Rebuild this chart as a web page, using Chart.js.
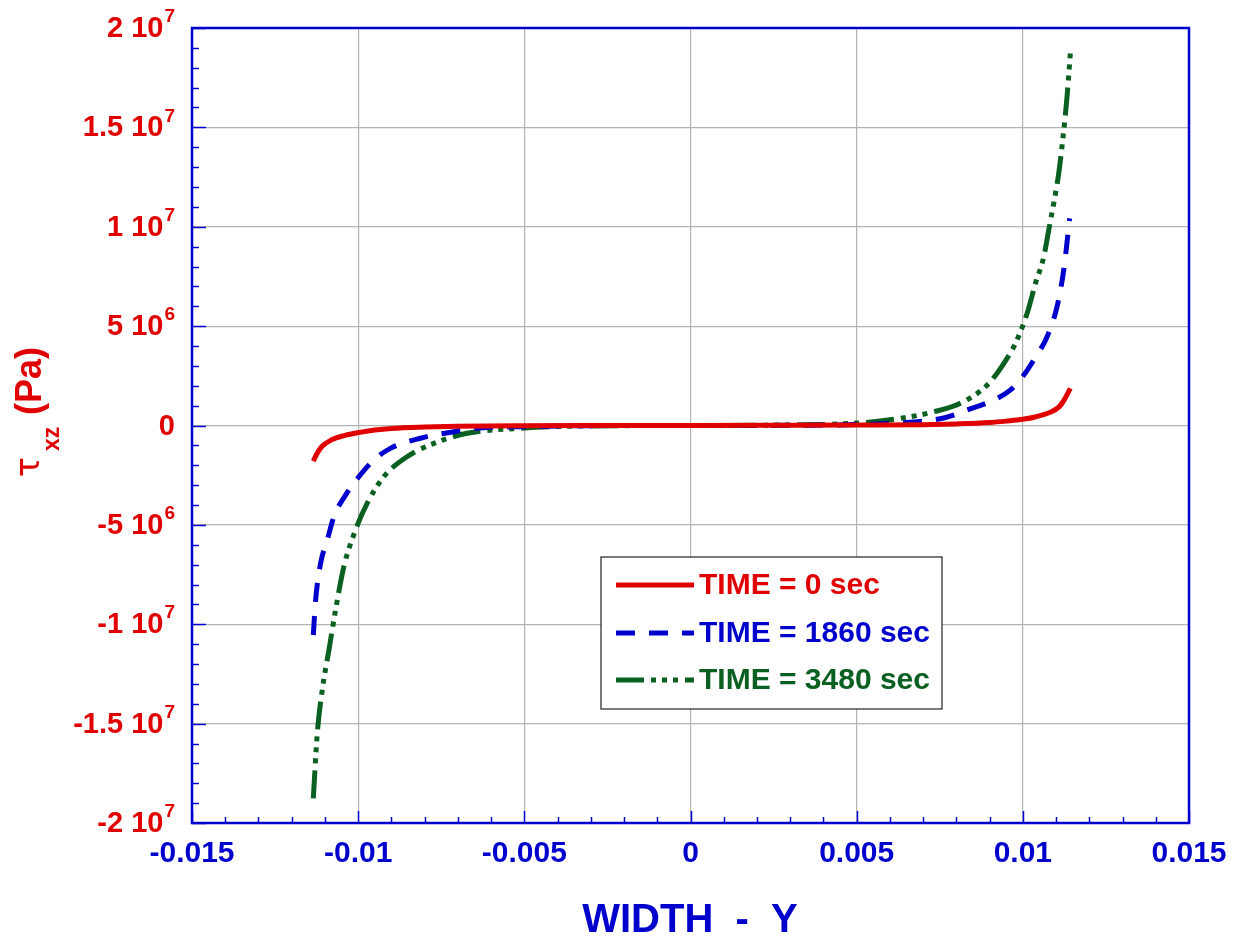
<!DOCTYPE html>
<html>
<head>
<meta charset="utf-8">
<script src="https://cdn.jsdelivr.net/npm/chart.js@4"></script>
<style>
  html, body { margin: 0; padding: 0; background: #fff; }
  #wrap { width: 1238px; height: 937px; }
</style>
</head>
<body>
<div id="wrap"><canvas id="chartCanvas"></canvas></div>
<script>
// widths in m, stresses in Pa
const redX = [-0.01135, -0.01125, -0.0111, -0.0108, -0.0104, -0.0100, -0.0095, -0.0090, -0.0080, -0.0070, -0.0050, -0.0030, 0, 0.0030, 0.0050, 0.0070, 0.0080, 0.0090, 0.0095, 0.0100, 0.0104, 0.0108, 0.0111, 0.01125, 0.01143];
const redY = [-1.79e6, -1.45e6, -1.07e6, -0.72e6, -0.50e6, -0.36e6, -0.23e6, -0.15e6, -0.08e6, -0.04e6, -0.01e6, 0, 0, 0.01e6, 0.02e6, 0.04e6, 0.08e6, 0.15e6, 0.22e6, 0.31e6, 0.44e6, 0.65e6, 0.95e6, 1.3e6, 1.87e6];

const blueX = [-0.01135, -0.01128, -0.01113, -0.01093, -0.01073, -0.01038, -0.00998, -0.00953, -0.00903, -0.00813, -0.00712, -0.00632, -0.005, -0.003, 0, 0.003, 0.005, 0.00682, 0.00762, 0.00833, 0.00912, 0.00963, 0.01003, 0.01033, 0.01073, 0.01103, 0.01123, 0.01141];
const blueY = [-10.54e6, -8.78e6, -6.93e6, -5.76e6, -4.59e6, -3.5e6, -2.58e6, -1.74e6, -1.15e6, -0.64e6, -0.31e6, -0.12e6, -0.06e6, -0.01e6, 0, 0.01e6, 0.05e6, 0.19e6, 0.38e6, 0.78e6, 1.28e6, 1.79e6, 2.54e6, 3.3e6, 4.47e6, 5.98e6, 7.82e6, 10.42e6];

const greenX = [-0.01135, -0.01123, -0.01108, -0.01088, -0.01068, -0.01043, -0.01008, -0.00973, -0.00923, -0.00853, -0.00772, -0.00672, -0.005, -0.003, 0, 0.003, 0.005, 0.00632, 0.00732, 0.00812, 0.00893, 0.00943, 0.00978, 0.01013, 0.01038, 0.01063, 0.01078, 0.01093, 0.01108, 0.0112, 0.01133, 0.01143];
const greenY = [-18.76e6, -15.49e6, -13.3e6, -11.3e6, -9.28e6, -7.1e6, -5.26e6, -3.92e6, -2.58e6, -1.57e6, -0.9e6, -0.39e6, -0.13e6, -0.02e6, 0, 0.03e6, 0.12e6, 0.36e6, 0.69e6, 1.12e6, 2.04e6, 3.13e6, 4.14e6, 5.65e6, 7.15e6, 8.49e6, 9.84e6, 11.18e6, 12.69e6, 14.36e6, 16.54e6, 18.73e6];

const seriesLabels = ["TIME = 0 sec", "TIME = 1860 sec", "TIME = 3480 sec"];
const xMajors = [-0.015, -0.01, -0.005, 0, 0.005, 0.01, 0.015];
const xTickLabels = ["-0.015", "-0.01", "-0.005", "0", "0.005", "0.01", "0.015"];
const yMajors = [-2e7, -1.5e7, -1e7, -5e6, 0, 5e6, 1e7, 1.5e7, 2e7];
const yTickMant = ["-2", "-1.5", "-1", "-5", "0", "5", "1", "1.5", "2"];
const yTickExp = ["7", "7", "7", "6", "", "6", "7", "7", "7"];

const RED = "#e00000", BLUE = "#0000cc", GREEN = "#0a6020";
const AXIS = "#0000d0";
const FONT = "'Liberation Sans', Arial, sans-serif";

Chart.defaults.font.family = FONT;

function pts(xs, ys) {
    return xs.map((x, i) => ({x: x, y: ys[i]}));
}

function isMajor(v, step) {
    const r = v / step;
    return Math.abs(r - Math.round(r)) < 1e-6;
}

const framePlugin = {
    id: "frame",
    afterDraw(chart) {
        const ctx = chart.ctx;
        const a = chart.chartArea;
        const xs = chart.scales.x, ys = chart.scales.y;
        ctx.save();

        // inward ticks
        ctx.strokeStyle = AXIS;
        ctx.lineWidth = 1.5;
        xs.ticks.forEach(t => {
            const px = Math.round(xs.getPixelForValue(t.value)) + 0.5;
            const len = isMajor(t.value, 0.005) ? 12 : 6;
            ctx.beginPath();
            ctx.moveTo(px, a.bottom);
            ctx.lineTo(px, a.bottom - len);
            ctx.stroke();
        });
        ys.ticks.forEach(t => {
            const py = Math.round(ys.getPixelForValue(t.value)) + 0.5;
            const len = isMajor(t.value, 5e6) ? 14 : 7;
            ctx.beginPath();
            ctx.moveTo(a.left, py);
            ctx.lineTo(a.left + len, py);
            ctx.stroke();
        });

        // box round the plot
        ctx.strokeStyle = AXIS;
        ctx.lineWidth = 2.5;
        ctx.strokeRect(a.left, a.top, a.right - a.left, a.bottom - a.top);

        // x tick labels
        ctx.fillStyle = BLUE;
        ctx.font = "bold 30px " + FONT;
        ctx.textAlign = "center";
        ctx.textBaseline = "middle";
        xMajors.forEach((v, i) => {
            ctx.fillText(xTickLabels[i], xs.getPixelForValue(v), a.bottom + 31);
        });

        // y tick labels with powers of ten
        ctx.fillStyle = RED;
        ctx.textAlign = "left";
        yMajors.forEach((v, i) => {
            const py = ys.getPixelForValue(v);
            const main = yTickExp[i] ? yTickMant[i] + " 10" : yTickMant[i];
            ctx.font = "bold 29px " + FONT;
            const wMain = ctx.measureText(main).width;
            ctx.font = "bold 19px " + FONT;
            const wExp = yTickExp[i] ? ctx.measureText(yTickExp[i]).width + 1 : 0;
            const x0 = 175 - wMain - wExp;
            ctx.font = "bold 29px " + FONT;
            ctx.fillText(main, x0, py + 1);
            if (yTickExp[i]) {
                ctx.font = "bold 19px " + FONT;
                ctx.fillText(yTickExp[i], x0 + wMain + 1, py - 11);
            }
        });

        // x title
        ctx.fillStyle = BLUE;
        ctx.font = "bold 40px " + FONT;
        ctx.textAlign = "center";
        ctx.textBaseline = "alphabetic";
        ctx.fillText("WIDTH  -  Y", 690, 932);

        // y title, rotated
        ctx.translate(41, 476);
        ctx.rotate(-Math.PI / 2);
        ctx.fillStyle = RED;
        ctx.textAlign = "left";
        ctx.font = "33px 'DejaVu Sans', " + FONT;
        ctx.fillText("τ", -1, -2);
        ctx.font = "bold 23px " + FONT;
        ctx.fillText("xz", 25, 18);
        ctx.font = "bold 36px " + FONT;
        ctx.fillText("(Pa)", 61, 0);
        ctx.restore();

        // legend box
        ctx.save();
        const bx = 601, by = 557, bw = 341, bh = 152;
        ctx.fillStyle = "#fff";
        ctx.fillRect(bx, by, bw, bh);
        ctx.strokeStyle = "#222";
        ctx.lineWidth = 1.2;
        ctx.strokeRect(bx, by, bw, bh);
        const rows = [585, 633, 680];
        chart.data.datasets.forEach((ds, i) => {
            ctx.strokeStyle = ds.borderColor;
            ctx.lineWidth = 5;
            ctx.setLineDash(ds.borderDash || []);
            ctx.beginPath();
            ctx.moveTo(616, rows[i]);
            ctx.lineTo(694, rows[i]);
            ctx.stroke();
            ctx.setLineDash([]);
            ctx.fillStyle = ds.borderColor;
            ctx.font = "bold 30px " + FONT;
            ctx.textAlign = "left";
            ctx.textBaseline = "middle";
            ctx.fillText(ds.label, 699, rows[i] + 1);
        });
        ctx.restore();
    }
};

const chart = new Chart(chartCanvas, {
    type: "line",
    data: {
        datasets: [
            {
                label: seriesLabels[0],
                data: pts(redX, redY),
                borderColor: RED,
                borderWidth: 5
            },
            {
                label: seriesLabels[1],
                data: pts(blueX, blueY),
                borderColor: BLUE,
                borderWidth: 5,
                borderDash: [19, 14]
            },
            {
                label: seriesLabels[2],
                data: pts(greenX, greenY),
                borderColor: GREEN,
                borderWidth: 5,
                borderDash: [28, 7, 5, 6, 5, 6, 5, 7]
            }
        ]
    },
    options: {
        responsive: true,
        maintainAspectRatio: false,
        animation: false,
        layout: {
            padding: {left: 192, top: 28, right: 49, bottom: 114}
        },
        elements: {
            point: {radius: 0},
            line: {cubicInterpolationMode: "monotone", fill: false, borderCapStyle: "butt"}
        },
        plugins: {
            legend: {display: false},
            tooltip: {enabled: false}
        },
        scales: {
            x: {
                type: "linear",
                min: -0.015,
                max: 0.015,
                ticks: {display: false, stepSize: 0.001},
                grid: {
                    drawTicks: false,
                    color: c => isMajor(c.tick.value, 0.005) ? "#b4b4b4" : "rgba(0,0,0,0)",
                    lineWidth: 1.2
                },
                border: {display: false}
            },
            y: {
                type: "linear",
                min: -2e7,
                max: 2e7,
                ticks: {display: false, stepSize: 1e6},
                grid: {
                    drawTicks: false,
                    color: c => isMajor(c.tick.value, 5e6) ? "#b4b4b4" : "rgba(0,0,0,0)",
                    lineWidth: 1.2
                },
                border: {display: false}
            }
        }
    },
    plugins: [framePlugin]
});
</script>
</body>
</html>
